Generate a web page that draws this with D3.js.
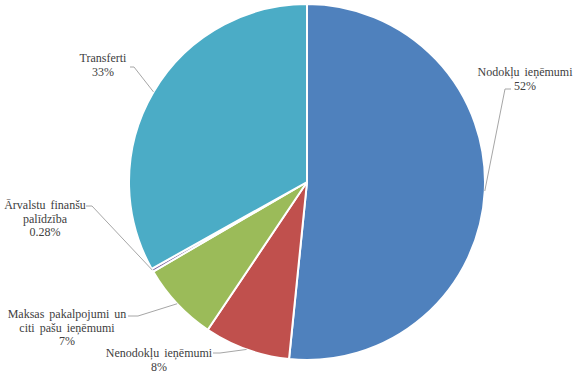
<!DOCTYPE html>
<html><head><meta charset="utf-8">
<script src="https://cdn.jsdelivr.net/npm/d3@7"></script>
<style>html,body{margin:0;padding:0;background:#fff;}svg{display:block;}</style>
</head><body>
<svg id="c" width="585" height="382"></svg>
<script>
const categories = ["Nodokļu ieņēmumi", "Nenodokļu ieņēmumi", "Maksas pakalpojumi un citi pašu ieņēmumi", "Ārvalstu finanšu palīdzība", "Transferti"];
const values = [51.6, 7.8, 7.2, 0.28, 33.1];
const labelText = [["Nodokļu ieņēmumi", "52%"], ["Nenodokļu ieņēmumi", "8%"], ["Maksas pakalpojumi un", "citi pašu ieņēmumi", "7%"], ["Ārvalstu finanšu", "palīdzība", "0.28%"], ["Transferti", "33%"]];
const colors = ["#4F81BD", "#C0504D", "#9BBB59", "#8064A2", "#4BACC6"];

// layout: label text centre x, first baseline y, leader elbow start (x,y), elbow end x
const labelLayout = [
  {x: 525, y: 76, lx: 511, ly: 89, ex: 505},
  {x: 159, y: 357, lx: 213, ly: 353, ex: 220},
  {x: 67, y: 318, lx: 128, ly: 316, ex: 138},
  {x: 45, y: 209, lx: 86, ly: 206, ex: 92},
  {x: 103, y: 62, lx: 130, ly: 67, ex: 134}
];

const svg = d3.select("#c");
const cx = 307, cy = 182, R = 178;
const data = categories.map((c, i) => ({c, v: values[i], i}));
const pie = d3.pie().value(d => d.v).sort(null);
const arcs = pie(data);
const arc = d3.arc().innerRadius(0).outerRadius(R);
const g = svg.append("g").attr("transform", `translate(${cx},${cy})`);
g.selectAll("path").data(arcs).enter().append("path")
  .attr("d", arc)
  .attr("fill", d => colors[d.data.i])
  .attr("stroke", "#fff").attr("stroke-width", 2).attr("stroke-linejoin", "round");

arcs.forEach((a, i) => {
  const m = (a.startAngle + a.endAngle) / 2;
  const px = cx + R * Math.sin(m), py = cy - R * Math.cos(m);
  const L = labelLayout[i];
  svg.append("polyline")
    .attr("points", `${L.lx},${L.ly} ${L.ex},${L.ly} ${px},${py}`)
    .attr("fill", "none").attr("stroke", "#a6a6a6").attr("stroke-width", 1);
  labelText[i].forEach((s, k) => {
    svg.append("text")
      .attr("x", L.x).attr("y", L.y + k * 13.5)
      .attr("text-anchor", "middle")
      .style("font-family", '"Liberation Serif"')
      .style("font-size", "12px")
      .style("word-spacing", "2px")
      .style("fill", "#404040")
      .text(s);
  });
});
</script>
</body></html>
